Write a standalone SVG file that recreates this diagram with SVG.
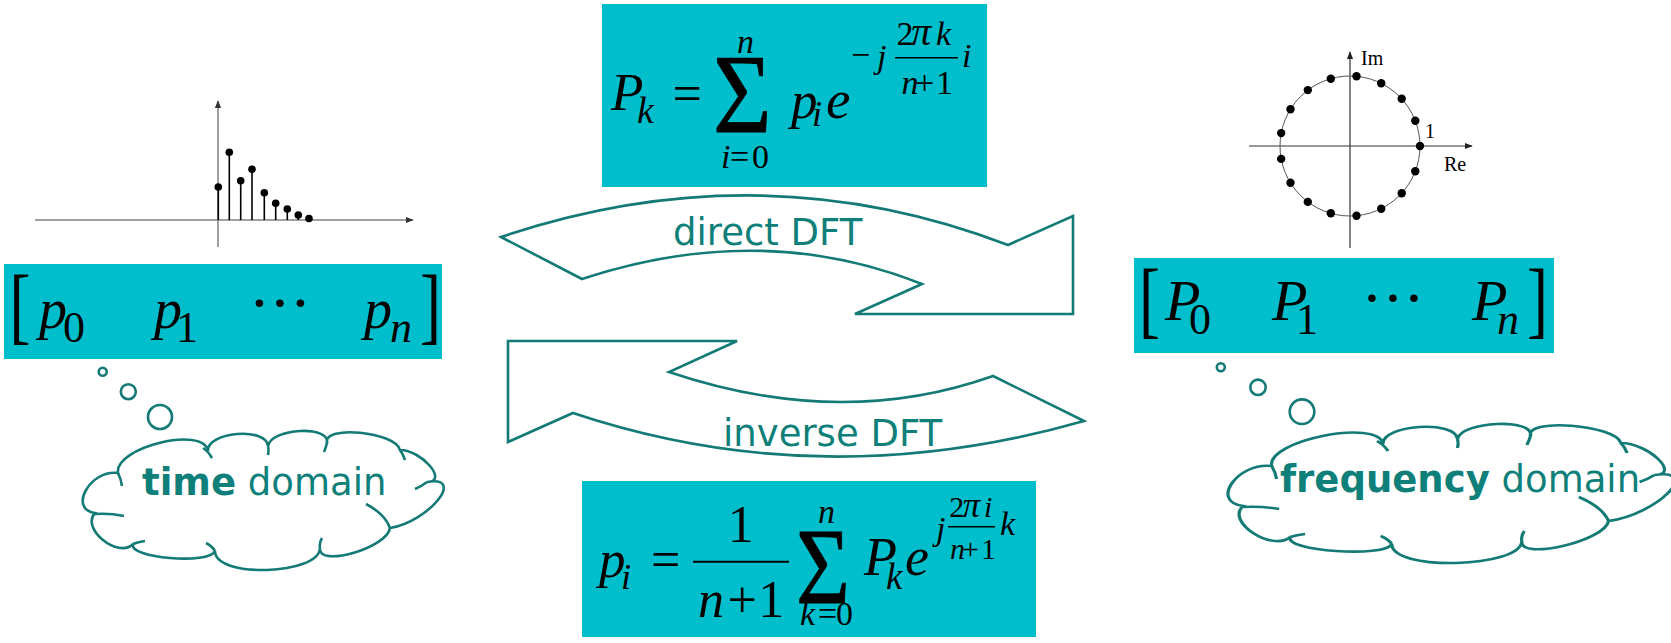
<svg xmlns="http://www.w3.org/2000/svg" width="1671" height="643" viewBox="0 0 1671 643">
<style>
.box{fill:#00BECC}
.m{font-family:"Liberation Serif","Times New Roman",serif;fill:#000}
.it{font-style:italic}
.sig{stroke:#000;stroke-width:0.8}
.lbl{font-family:"DejaVu Sans",Verdana,sans-serif;font-size:37px;fill:#0F7F7A}
.b{font-weight:bold}
.out{fill:#fff;stroke:#137A76;stroke-width:2.6;stroke-linejoin:miter}
.cl{fill:#fff;stroke:#137A76;stroke-width:2.6;vector-effect:non-scaling-stroke}
.tk{fill:none;stroke:#137A76;stroke-width:2.6;vector-effect:non-scaling-stroke}
.bub{fill:#fff;stroke:#137A76;stroke-width:2.6}
.ax{stroke:#808080;stroke-width:1.5;fill:none}
.ax2{stroke:#333;stroke-width:1.2;fill:none}
.stem{stroke:#000;stroke-width:1.6}
.bar{stroke:#000}
</style>
<defs>
<marker id="ahG" viewBox="0 0 10 10" refX="9" refY="5" markerWidth="8" markerHeight="8" markerUnits="userSpaceOnUse" orient="auto"><path d="M0,1 L10,5 L0,9 Z" fill="#333"/></marker>
<marker id="ahK" viewBox="0 0 10 10" refX="9" refY="5" markerWidth="8" markerHeight="8" markerUnits="userSpaceOnUse" orient="auto"><path d="M0,1 L10,5 L0,9 Z" fill="#222"/></marker>
<path id="cloudShape" d="M10,82 C-17.3,78 5.7,38 33,42 C29,16.3 119,-5.7 123,20 C121.7,0.7 181.7,-4.3 183,15 C186.3,-3 245.3,-6 242,12 C237.3,-6.4 310.3,0.6 315,19 C337,19 364,51 342,51 C381.3,44.3 344.3,90.3 305,97 C302.3,117 232.3,137 235,117 C234.3,144.3 129.3,147.3 130,120 C124.7,134 42.7,127 48,113 C33.3,128.3 -4.7,97.3 10,82 Z"/>
<path id="cloudTicks" d="M33,42 Q36,48 37,55 M10,83 Q25,82 39,85 M118,17 Q123,20 127,27 M183,15 Q184,19 183,24 M242,12 Q241,16 239,21 M315,19 Q318,23 320,29 M342,51 Q337,55 330,58 M305,97 Q300,83 281,73 M235,117 Q234,112 237,107 M130,120 Q127,115 121,112 M48,113 Q53,111 60,110"/>
</defs>

<g id="time-plot">
<line class="ax" x1="35" y1="220" x2="413" y2="220" marker-end="url(#ahG)"/>
<line class="ax" x1="218" y1="247" x2="218" y2="101" marker-end="url(#ahG)"/>
<g class="stem">
<line x1="218.3" y1="220" x2="218.3" y2="187"/>
<line x1="229.3" y1="220" x2="229.3" y2="152.3"/>
<line x1="240.7" y1="220" x2="240.7" y2="180.7"/>
<line x1="252" y1="220" x2="252" y2="169.3"/>
<line x1="264.3" y1="220" x2="264.3" y2="192.7"/>
<line x1="275.7" y1="220" x2="275.7" y2="203.3"/>
<line x1="287.3" y1="220" x2="287.3" y2="209"/>
<line x1="298.3" y1="220" x2="298.3" y2="215"/>
</g>
<g fill="#000">
<circle cx="218.3" cy="187" r="3.8"/>
<circle cx="229.3" cy="152.3" r="3.8"/>
<circle cx="240.7" cy="180.7" r="3.8"/>
<circle cx="252" cy="169.3" r="3.8"/>
<circle cx="264.3" cy="192.7" r="3.8"/>
<circle cx="275.7" cy="203.3" r="3.8"/>
<circle cx="287.3" cy="209" r="3.8"/>
<circle cx="298.3" cy="215" r="3.8"/>
<circle cx="309" cy="218.5" r="3.8"/>
</g>
</g>

<g id="unit-circle">
<line class="ax2" x1="1249" y1="146" x2="1472" y2="146" marker-end="url(#ahK)"/>
<line class="ax2" x1="1350" y1="248" x2="1350" y2="52" marker-end="url(#ahK)"/>
<circle cx="1350" cy="146" r="70" fill="none" stroke="#555" stroke-width="1"/>
<g fill="#000">
<circle cx="1420" cy="146" r="4.2"/>
<circle cx="1415.3" cy="120.7" r="4.2"/>
<circle cx="1401.7" cy="98.8" r="4.2"/>
<circle cx="1381.2" cy="83.3" r="4.2"/>
<circle cx="1356.5" cy="76.3" r="4.2"/>
<circle cx="1330.8" cy="78.7" r="4.2"/>
<circle cx="1307.8" cy="90.1" r="4.2"/>
<circle cx="1290.5" cy="109.2" r="4.2"/>
<circle cx="1281.2" cy="133.1" r="4.2"/>
<circle cx="1281.2" cy="158.9" r="4.2"/>
<circle cx="1290.5" cy="182.8" r="4.2"/>
<circle cx="1307.8" cy="201.9" r="4.2"/>
<circle cx="1330.8" cy="213.3" r="4.2"/>
<circle cx="1356.5" cy="215.7" r="4.2"/>
<circle cx="1381.2" cy="208.7" r="4.2"/>
<circle cx="1401.7" cy="193.2" r="4.2"/>
<circle cx="1415.3" cy="171.3" r="4.2"/>
</g>
<text class="m" x="1361" y="65" font-size="20">Im</text>
<text class="m" x="1425" y="138" font-size="20">1</text>
<text class="m" x="1444" y="171" font-size="20">Re</text>
</g>

<g id="top-formula">
<rect class="box" x="602" y="4" width="385" height="183"/>
<text class="m it" x="611" y="110" font-size="53">P</text>
<text class="m it" x="637" y="123" font-size="38">k</text>
<text class="m" x="672.5" y="111" font-size="52">=</text>
<text class="m sig" font-size="112" transform="translate(713,131.7) scale(0.9,1)">Σ</text>
<text class="m it" x="737" y="53" font-size="34">n</text>
<text class="m" x="721" y="168" font-size="34"><tspan class="it">i</tspan><tspan dx="-0.5">=</tspan><tspan dx="2.8">0</tspan></text>
<text class="m it" x="791" y="118" font-size="53">p</text>
<text class="m it" x="812" y="126" font-size="36">i</text>
<text class="m it" x="826" y="118" font-size="55">e</text>
<text class="m" x="851" y="66" font-size="34">−</text>
<text class="m it" x="877" y="68" font-size="34">j</text>
<text class="m" y="45" font-size="34"><tspan x="896.5">2</tspan><tspan class="it" x="911" font-size="40">π</tspan><tspan class="it" x="936">k</tspan></text>
<line class="bar" x1="895" y1="57.7" x2="958" y2="57.7" stroke-width="1.6"/>
<text class="m" y="94" font-size="34"><tspan class="it" x="901.5">n</tspan><tspan x="915">+</tspan><tspan x="936">1</tspan></text>
<text class="m it" x="962" y="67" font-size="34">i</text>
</g>

<g id="bottom-formula">
<rect class="box" x="582" y="481" width="454" height="156"/>
<text class="m it" x="599" y="577" font-size="53">p</text>
<text class="m it" x="621" y="589" font-size="36">i</text>
<text class="m" x="651" y="577" font-size="52">=</text>
<text class="m" x="727.7" y="541.7" font-size="52">1</text>
<line class="bar" x1="693" y1="561.7" x2="789" y2="561.7" stroke-width="2"/>
<text class="m" x="698" y="617" font-size="52"><tspan class="it">n</tspan><tspan dx="3.5">+</tspan><tspan dx="1.5">1</tspan></text>
<text class="m sig" font-size="108" transform="translate(796,603) scale(0.86,1)">Σ</text>
<text class="m it" x="818" y="523" font-size="34">n</text>
<text class="m" x="800" y="625" font-size="34"><tspan class="it">k</tspan><tspan dx="2.9">=</tspan><tspan dx="-1.2">0</tspan></text>
<text class="m it" x="864" y="575" font-size="54">P</text>
<text class="m it" x="886" y="589" font-size="37">k</text>
<text class="m it" x="905" y="575" font-size="54">e</text>
<text class="m it" x="936" y="540" font-size="34">j</text>
<text class="m" y="516.7" font-size="30"><tspan x="949.3">2</tspan><tspan class="it" x="962.5" font-size="35">π</tspan><tspan class="it" x="984">i</tspan></text>
<line class="bar" x1="948" y1="526.7" x2="995" y2="526.7" stroke-width="1.5"/>
<text class="m" y="559.3" font-size="30"><tspan class="it" x="950">n</tspan><tspan x="962">+</tspan><tspan x="981">1</tspan></text>
<text class="m it" x="1000" y="535" font-size="34">k</text>
</g>

<g id="time-vector">
<rect class="box" x="4" y="264" width="438" height="95"/>
<text class="m" font-size="84" transform="translate(9.5,334) scale(0.75,1)">[</text>
<text class="m it" x="39" y="328" font-size="56">p</text>
<text class="m" x="63" y="342" font-size="44">0</text>
<text class="m it" x="154" y="328" font-size="56">p</text>
<text class="m" x="176" y="342" font-size="44">1</text>
<text class="m" x="259.5 280 300.5" y="324" font-size="64" text-anchor="middle">···</text>
<text class="m it" x="364" y="328" font-size="56">p</text>
<text class="m it" x="390" y="342" font-size="44">n</text>
<text class="m" font-size="84" transform="translate(420,334) scale(0.75,1)">]</text>
</g>

<g id="freq-vector">
<rect class="box" x="1134" y="258" width="420" height="95"/>
<text class="m" font-size="84" transform="translate(1139,327.5) scale(0.75,1)">[</text>
<text class="m it" x="1165" y="320" font-size="58">P</text>
<text class="m" x="1189" y="334" font-size="44">0</text>
<text class="m it" x="1272" y="320" font-size="58">P</text>
<text class="m" x="1296" y="334" font-size="44">1</text>
<text class="m" x="1372 1393 1414" y="319" font-size="64" text-anchor="middle">···</text>
<text class="m it" x="1472" y="320" font-size="58">P</text>
<text class="m it" x="1497" y="334" font-size="44">n</text>
<text class="m" font-size="84" transform="translate(1527,327.5) scale(0.75,1)">]</text>
</g>

<g id="time-cloud">
<circle class="bub" cx="102.7" cy="371.7" r="4"/>
<circle class="bub" cx="128.3" cy="391.7" r="7.5"/>
<circle class="bub" cx="160" cy="417" r="12"/>
<g transform="translate(85,431)">
<use href="#cloudShape" class="cl"/>
<use href="#cloudTicks" class="tk"/>
</g>
<text class="lbl" x="142" y="495"><tspan class="b">time</tspan> domain</text>
</g>

<g id="freq-cloud">
<circle class="bub" cx="1220.8" cy="367.3" r="4"/>
<circle class="bub" cx="1258" cy="387.3" r="7.7"/>
<circle class="bub" cx="1302" cy="411.7" r="12.3"/>
<g transform="translate(1230.8,424) scale(1.2386,1)">
<use href="#cloudShape" class="cl"/>
<use href="#cloudTicks" class="tk"/>
</g>
<text class="lbl" x="1280" y="492"><tspan class="b">frequency</tspan> domain</text>
</g>

<g id="connectors">
<g id="direct-dft">
<path class="out" d="M501,237 Q760,150 1008,245 L1073,216 L1073,314 L855,314 L922,284 Q761,220 582,279 Z"/>
<text class="lbl" x="673" y="245">direct DFT</text>
</g>
<g id="inverse-dft">
<path class="out" d="M508,341 L737,341 L669,372 Q841,430 993,376 L1084,421 Q821.5,496 573,413 L508,442 Z"/>
<text class="lbl" x="723" y="446">inverse DFT</text>
</g>
</g>
</svg>
